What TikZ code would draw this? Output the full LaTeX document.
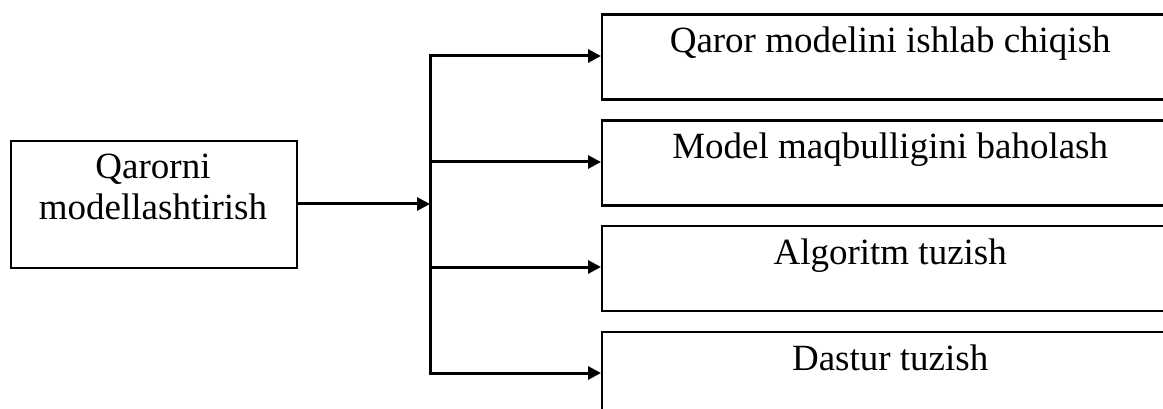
\documentclass[tikz,border=0pt]{standalone}
\usepackage{fontspec}
\setmainfont{Liberation Serif}
\usetikzlibrary{arrows.meta}
\begin{document}
\begin{tikzpicture}[x=1pt,y=-1pt,
  boxframe/.style={draw=black,line width=2.4pt,rectangle,inner sep=0pt},
  caption/.style={font=\fontsize{37}{41}\selectfont,inner sep=0pt,align=center},
  link/.style={line width=3pt,-{Triangle[length=13pt,width=13pt]}},
  bus/.style={line width=3pt,line cap=rect}]
\useasboundingbox (0,0) rectangle (1163,409);

% source box on the left
\node[boxframe,anchor=north west,minimum width=286pt,minimum height=127pt] (src) at (10,140) {};
\node[caption,anchor=base] (srctext) at (153,220) {Qarorni\\modellashtirish};

% target boxes on the right
\foreach \i/\top/\txt in {1/13.3/Qaror modelini ishlab chiqish,
                          2/119.3/Model maqbulligini baholash,
                          3/225/Algoritm tuzish,
                          4/331/Dastur tuzish}{
  \node[boxframe,anchor=north west,minimum width=576pt,minimum height=85pt] (t\i) at (601,\top) {};
  \node[caption,anchor=base] (tt\i) at ([yshift=-39.5pt]t\i.north) {\txt};
}

% distribution bus
\coordinate (hub) at (430,204);
\coordinate (bustop) at (430,56);
\coordinate (busbot) at (430,373);
\draw[bus] (bustop) -- (busbot);
\draw[link] (src.east |- hub) -- (hub);
\foreach \i/\y in {1/56,2/162,3/267,4/373}{
  \coordinate (b\i) at (430,\y);
  \draw[link] (b\i) -- (t\i.west |- b\i);
}
\end{tikzpicture}
\end{document}
